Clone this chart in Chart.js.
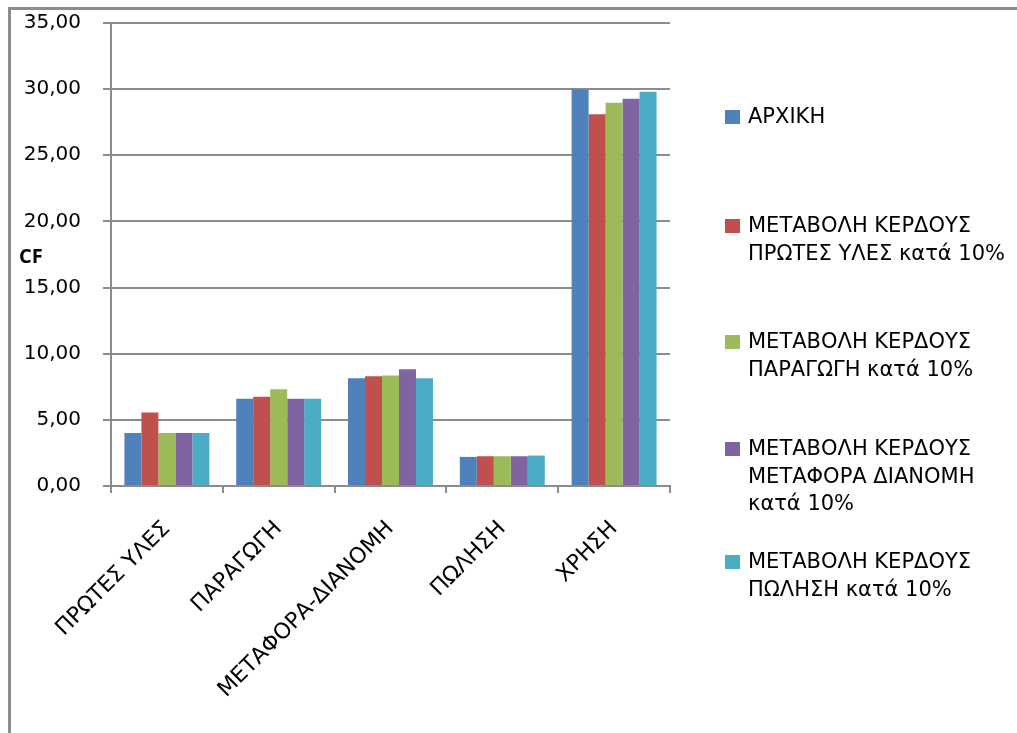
<!DOCTYPE html>
<html>
<head>
<meta charset="utf-8">
<script src="https://cdn.jsdelivr.net/npm/chart.js@4"></script>
<style>
  html, body { margin: 0; padding: 0; background: #fff; overflow: hidden; width: 1017px; height: 733px; }
  #wrap { position: relative; width: 1017px; height: 733px; overflow: hidden; font-family: "DejaVu Sans", sans-serif; }
  #chart { position: absolute; left: 0; top: 0; }
  #yTitle { position: absolute; left: 19px; top: 242px; font-family: "Open Sans", sans-serif; font-weight: bold; font-size: 20px; color: #000; }
  #legend { position: absolute; left: 0; top: 0; }
  .item { position: absolute; left: 725px; width: 285px; font-size: 21px; line-height: 27.5px; color: #000; }
  .item .box { position: absolute; left: 0; top: 7px; width: 15px; height: 14px; }
  .item .txt { margin-left: 23px; }
</style>
</head>
<body>
<div id="wrap">
  <canvas id="chart" width="1017" height="733"></canvas>
  <div id="yTitle">CF</div>
  <div id="legend"></div>
</div>
<script>
const categories = ["ΠΡΩΤΕΣ ΥΛΕΣ", "ΠΑΡΑΓΩΓΗ", "ΜΕΤΑΦΟΡΑ-ΔΙΑΝΟΜΗ", "ΠΩΛΗΣΗ", "ΧΡΗΣΗ"];

const seriesNames = [
  "ΑΡΧΙΚΗ",
  "ΜΕΤΑΒΟΛΗ ΚΕΡΔΟΥΣ ΠΡΩΤΕΣ ΥΛΕΣ κατά 10%",
  "ΜΕΤΑΒΟΛΗ ΚΕΡΔΟΥΣ ΠΑΡΑΓΩΓΗ κατά 10%",
  "ΜΕΤΑΒΟΛΗ ΚΕΡΔΟΥΣ ΜΕΤΑΦΟΡΑ ΔΙΑΝΟΜΗ κατά 10%",
  "ΜΕΤΑΒΟΛΗ ΚΕΡΔΟΥΣ ΠΩΛΗΣΗ κατά 10%"
];

const initial      = [4.00, 6.60, 8.15, 2.20, 30.00];
const rawMaterials = [5.55, 6.75, 8.30, 2.25, 28.10];
const production   = [4.00, 7.32, 8.36, 2.25, 28.98];
const distribution = [4.00, 6.60, 8.82, 2.25, 29.27];
const sales        = [4.00, 6.60, 8.15, 2.30, 29.80];

const colors = ["#4F81BD", "#C0504D", "#9BBB59", "#8064A2", "#4BACC6"];

// legend rows: vertical centre of each entry's first line
const legendTops = [117, 226, 342, 449, 562];

const allSeries = [initial, rawMaterials, production, distribution, sales];

const datasets = allSeries.map((values, i) => ({
  label: seriesNames[i],
  data: values,
  backgroundColor: colors[i],
  borderWidth: 0,
  categoryPercentage: 0.76,
  barPercentage: 1.0
}));

const gridColor = "#8c8c8c";

// outer chart frame: only its left and top edges fall inside the canvas
const frameEdges = {
  id: 'frameEdges',
  beforeDraw(chart) {
    const c = chart.ctx;
    c.save();
    c.strokeStyle = gridColor;
    c.lineWidth = 3;
    c.beginPath();
    c.moveTo(9.5, chart.height);
    c.lineTo(9.5, 8.5);
    c.lineTo(chart.width, 8.5);
    c.stroke();
    c.restore();
  }
};

const ctx = document.getElementById("chart").getContext("2d");
const chart = new Chart(ctx, {
  type: 'bar',
  data: { labels: categories, datasets: datasets },
  plugins: [frameEdges],
  options: {
    responsive: false,
    animation: false,
    layout: { padding: { top: 23, right: 347, left: 0, bottom: 0 } },
    plugins: {
      legend: { display: false },
      tooltip: { enabled: false }
    },
    scales: {
      x: {
        grid: {
          display: true,
          drawOnChartArea: false,
          drawTicks: true,
          tickLength: 7,
          color: gridColor,
          lineWidth: 2
        },
        border: { color: gridColor, width: 2 },
        ticks: {
          color: "#000",
          font: { family: "DejaVu Sans", size: 22 },
          minRotation: 45,
          maxRotation: 45,
          padding: 23,
          autoSkip: false
        },
        afterFit: function (scale) { scale.height = 247; }
      },
      y: {
        min: 0,
        max: 35,
        grid: {
          color: gridColor,
          lineWidth: 2,
          tickLength: 8
        },
        border: { color: gridColor, width: 2 },
        ticks: {
          stepSize: 5,
          color: "#000",
          font: { family: "DejaVu Sans", size: 20 },
          padding: 22,
          callback: function (v) { return v.toFixed(2).replace('.', ','); }
        },
        afterFit: function (scale) {
          // fixed axis width; the label gap should not eat into the plot height
          scale.width = 111;
          scale.paddingTop = 0;
          scale.paddingBottom = 0;
        }
      }
    }
  }
});

// html legend, built from the chart's own datasets
const legend = document.getElementById("legend");
chart.data.datasets.forEach((ds, i) => {
  const item = document.createElement("div");
  item.className = "item";
  item.style.top = (legendTops[i] - 14) + "px";
  const box = document.createElement("div");
  box.className = "box";
  box.style.background = ds.backgroundColor;
  const txt = document.createElement("div");
  txt.className = "txt";
  txt.textContent = ds.label;
  item.appendChild(box);
  item.appendChild(txt);
  legend.appendChild(item);
});
</script>
</body>
</html>
